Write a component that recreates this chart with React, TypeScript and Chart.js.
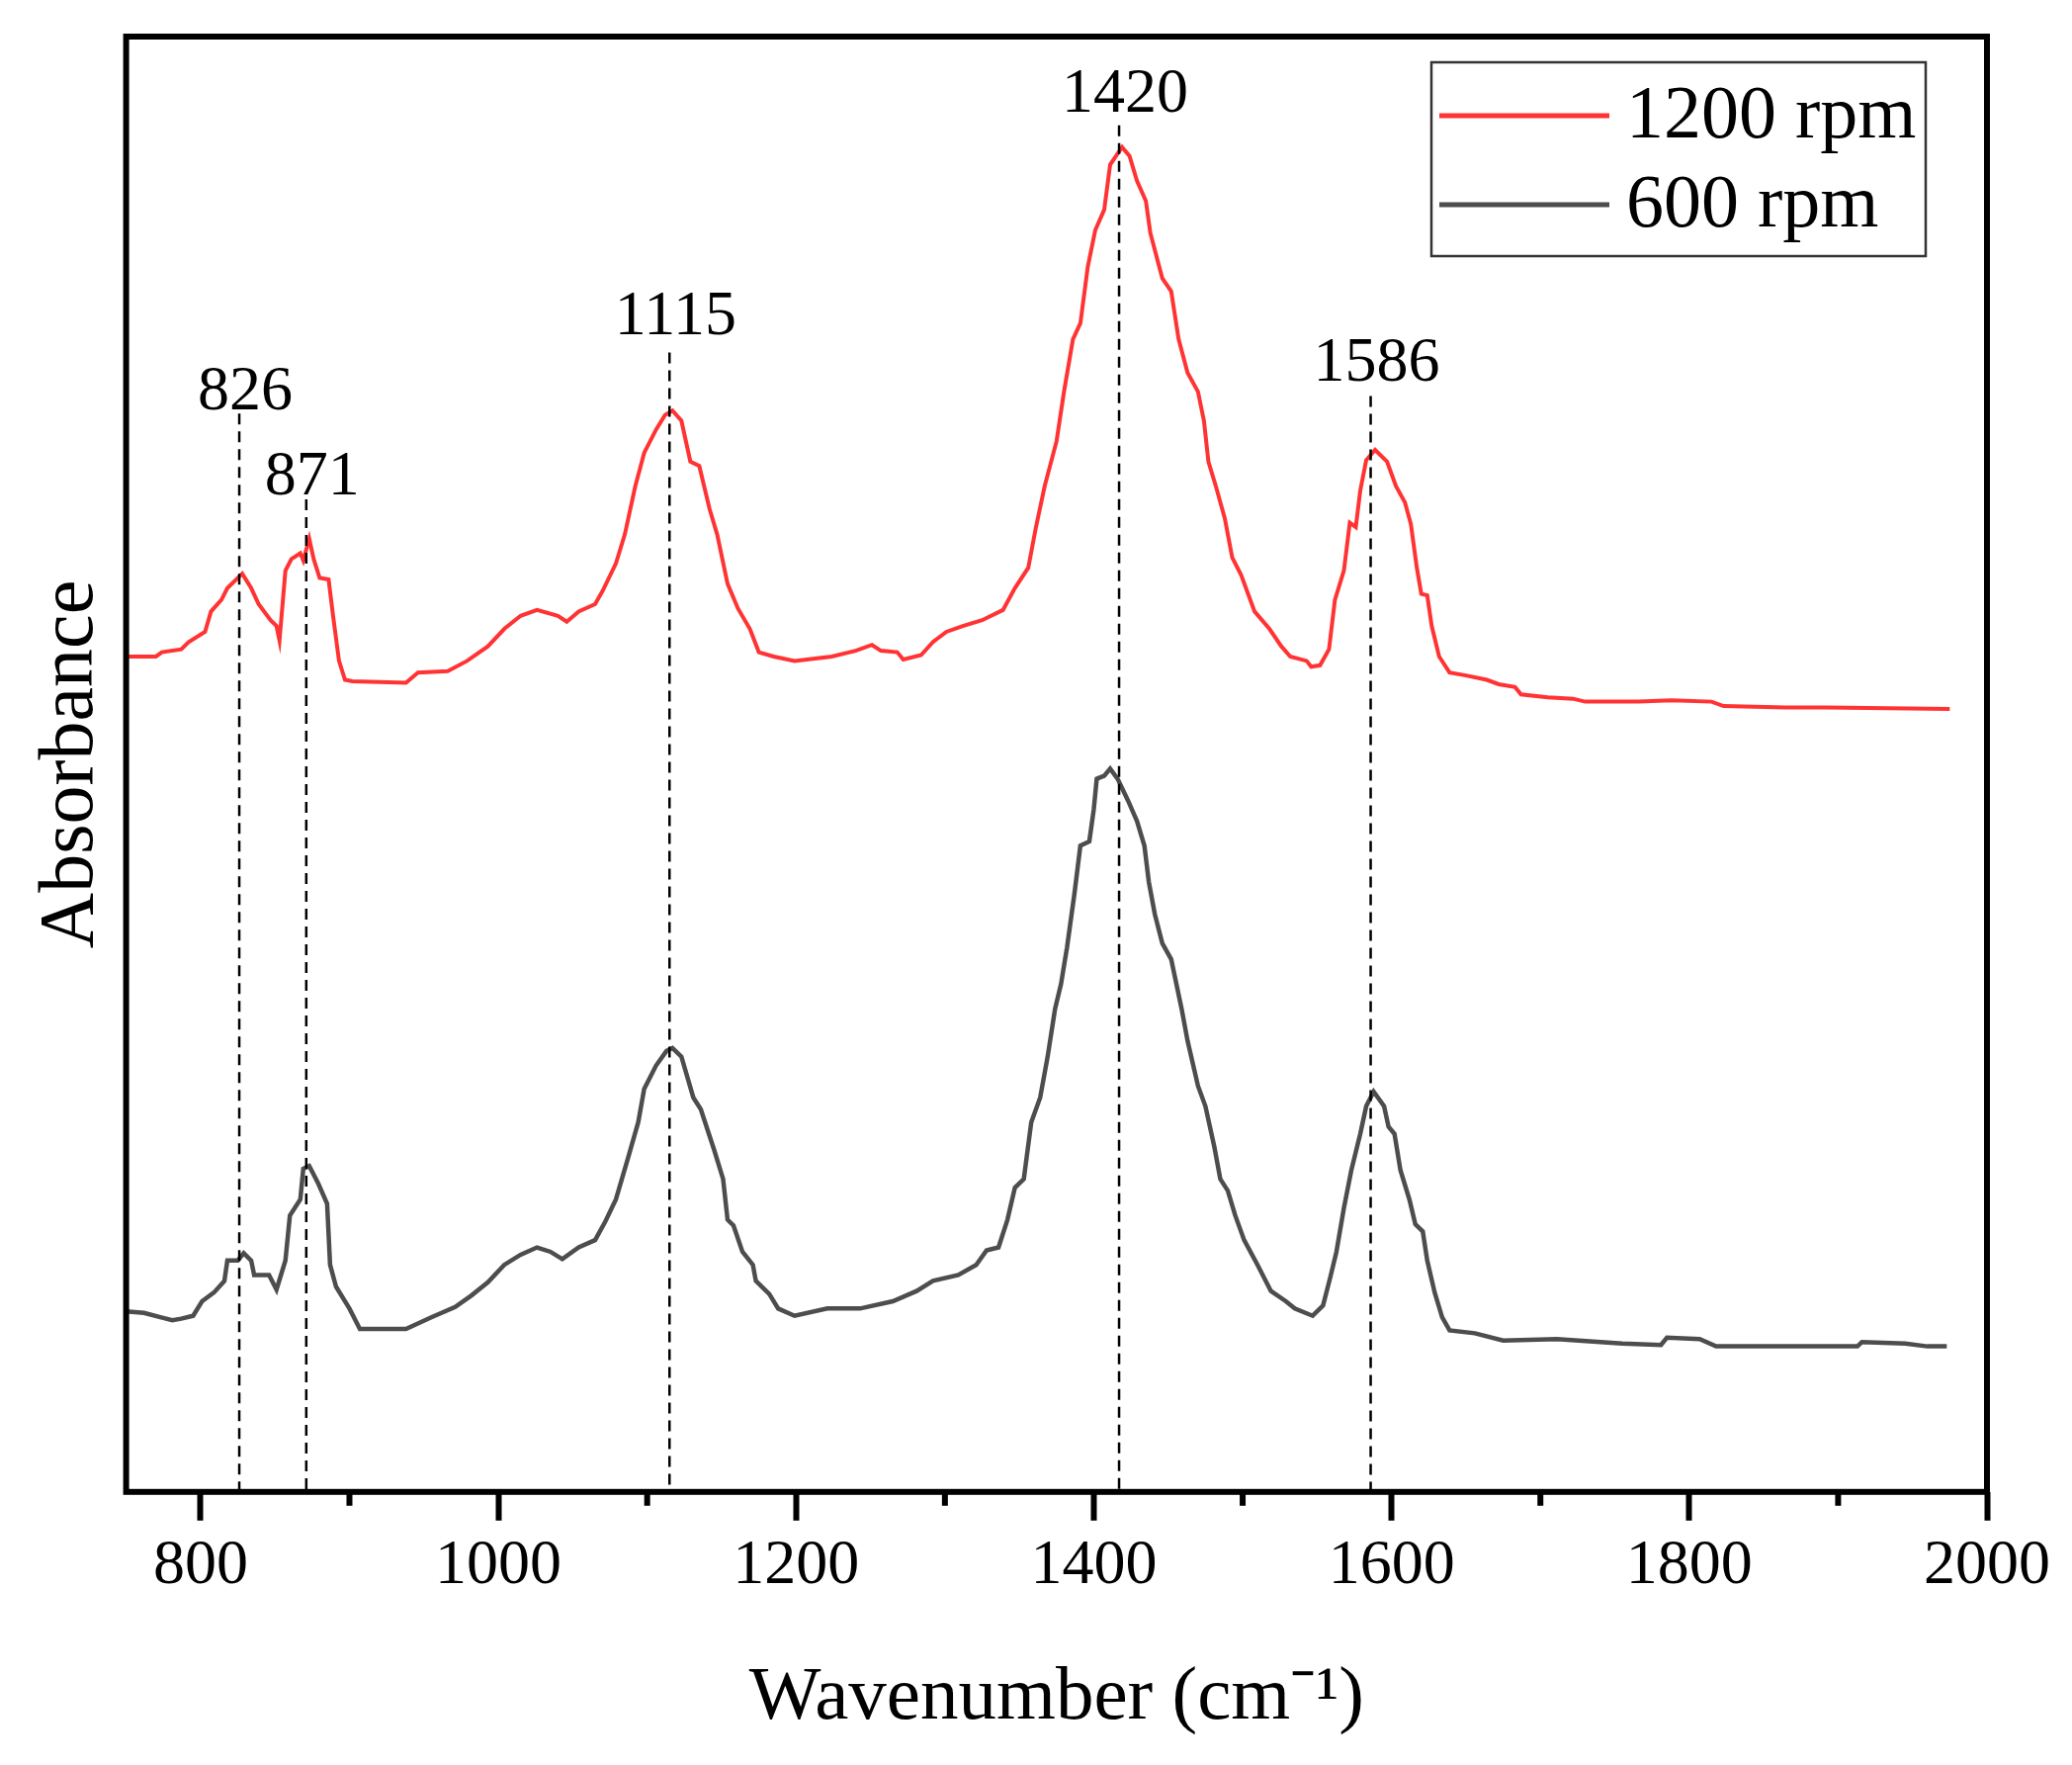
import React, { useEffect, useRef } from 'react';
import { Chart, registerables } from 'chart.js';

Chart.register(...registerables);

const FONT = "'Liberation Serif', 'Times New Roman', serif";

// ---- data (wavenumber in cm-1, absorbance in arbitrary offset units) ----
const wavenumber1200 = [
  750, 770, 774, 787, 792, 803, 807, 814, 818, 828, 834, 839, 847, 851, 853, 857, 861, 867, 869, 873,
  876, 880, 886, 889, 893, 897, 902, 938, 946, 966, 979, 993, 1004, 1015, 1026, 1040, 1046, 1054, 1065, 1070,
  1079, 1085, 1092, 1098, 1106, 1112, 1117, 1123, 1129, 1135, 1142, 1147, 1154, 1161, 1169, 1175, 1185, 1199, 1224, 1240,
  1251, 1257, 1268, 1272, 1284, 1292, 1301, 1312, 1325, 1339, 1347, 1356, 1361, 1367, 1375, 1380, 1386, 1391, 1396, 1401,
  1407, 1411, 1415, 1419, 1424, 1429, 1435, 1438, 1446, 1452, 1457, 1463, 1470, 1474, 1477, 1482, 1488, 1493, 1499, 1508,
  1518, 1526, 1532, 1543, 1546, 1552, 1558, 1562, 1568, 1572, 1576, 1579, 1583, 1589, 1597, 1603, 1609, 1613, 1617, 1620,
  1624, 1627, 1632, 1639, 1650, 1664, 1672, 1683, 1687, 1705, 1722, 1730, 1766, 1788, 1815, 1823, 1865, 1892, 1975,
];
const absorbance1200 = [
  57.4, 57.4, 57.7, 57.9, 58.4, 59.1, 60.5, 61.3, 62.1, 63.1, 62.1, 61.0, 59.9, 59.5, 58.5, 63.3, 64.1, 64.5, 64.0, 65.5,
  64.1, 62.8, 62.7, 60.2, 57.1, 55.8, 55.7, 55.6, 56.3, 56.4, 57.1, 58.1, 59.3, 60.2, 60.6, 60.2, 59.8, 60.5, 61.0, 61.9,
  63.8, 65.8, 69.1, 71.4, 73.0, 74.0, 74.3, 73.6, 70.8, 70.5, 67.5, 65.8, 62.4, 60.7, 59.3, 57.7, 57.4, 57.1, 57.4, 57.8,
  58.2, 57.8, 57.7, 57.2, 57.5, 58.4, 59.1, 59.5, 59.9, 60.6, 62.1, 63.5, 66.2, 69.1, 72.2, 75.6, 79.2, 80.3, 84.2, 86.7,
  88.1, 91.2, 91.8, 92.4, 91.8, 90.1, 88.7, 86.5, 83.4, 82.5, 79.2, 76.9, 75.6, 73.6, 70.8, 69.1, 66.9, 64.2, 63.0, 60.5,
  59.3, 58.1, 57.4, 57.1, 56.7, 56.8, 57.9, 61.3, 63.3, 66.6, 66.3, 68.8, 70.9, 71.6, 70.8, 69.1, 68.0, 66.5, 63.5, 61.7,
  61.6, 59.5, 57.4, 56.3, 56.1, 55.8, 55.5, 55.3, 54.8, 54.6, 54.5, 54.3, 54.3, 54.4, 54.3, 54.0, 53.9, 53.9, 53.8,
];

const wavenumber600 = [
  750, 762, 773, 781, 787, 795, 801, 809, 816, 818, 825, 829, 834, 836, 846, 851, 857, 860, 867, 869,
  873, 879, 885, 887, 891, 900, 907, 938, 955, 971, 982, 993, 1004, 1015, 1026, 1035, 1043, 1054, 1065, 1072,
  1079, 1087, 1094, 1098, 1106, 1113, 1117, 1123, 1131, 1136, 1145, 1151, 1154, 1158, 1164, 1171, 1173, 1182, 1188, 1199,
  1221, 1243, 1265, 1281, 1292, 1309, 1321, 1328, 1336, 1342, 1347, 1353, 1358, 1364, 1369, 1374, 1378, 1382, 1387, 1391,
  1397, 1400, 1402, 1407, 1411, 1416, 1423, 1429, 1434, 1437, 1441, 1446, 1452, 1459, 1463, 1470, 1475, 1481, 1485, 1490,
  1495, 1501, 1510, 1519, 1529, 1535, 1547, 1554, 1559, 1563, 1568, 1573, 1579, 1583, 1588, 1595, 1598, 1602, 1606, 1612,
  1616, 1621, 1624, 1629, 1634, 1639, 1656, 1675, 1711, 1755, 1781, 1785, 1807, 1818, 1913, 1916, 1945, 1960, 1973,
];
const absorbance600 = [
  12.4, 12.3, 12.0, 11.8, 11.9, 12.1, 13.1, 13.7, 14.5, 15.9, 15.9, 16.4, 15.9, 14.9, 14.9, 13.9, 15.9, 19.0, 20.1, 22.2,
  22.4, 21.2, 19.8, 15.6, 14.1, 12.6, 11.2, 11.2, 12.0, 12.7, 13.5, 14.4, 15.6, 16.3, 16.8, 16.5, 16.0, 16.8, 17.3, 18.6,
  20.1, 22.9, 25.4, 27.7, 29.3, 30.3, 30.5, 29.9, 27.1, 26.3, 23.5, 21.5, 18.7, 18.3, 16.5, 15.6, 14.5, 13.6, 12.6, 12.1,
  12.6, 12.6, 13.1, 13.8, 14.5, 14.9, 15.6, 16.6, 16.8, 18.7, 20.9, 21.5, 25.4, 27.1, 29.9, 33.2, 34.9, 37.4, 41.1, 44.4,
  44.7, 46.9, 49.0, 49.2, 49.7, 49.0, 47.5, 46.1, 44.4, 41.9, 39.7, 37.7, 36.6, 33.2, 31.0, 27.9, 26.5, 23.7, 21.5, 20.7,
  19.0, 17.3, 15.6, 13.8, 13.1, 12.6, 12.1, 12.8, 14.8, 16.5, 19.5, 22.1, 24.6, 26.5, 27.5, 26.5, 25.1, 24.6, 22.1, 20.1,
  18.4, 17.9, 15.9, 13.7, 12.0, 11.1, 10.9, 10.4, 10.5, 10.2, 10.1, 10.6, 10.5, 10.0, 10.0, 10.3, 10.2, 10.0, 10.0,
];

const seriesLabels = ['1200 rpm', '600 rpm'];
const seriesColors = ['#ff3333', '#4d4d4d'];

// dashed marker positions as drawn in the figure, and their printed labels
const peakPositions = [826, 871, 1115, 1417, 1586];
const peakLabels = ['826', '871', '1115', '1420', '1586'];
const peakLabelLevels = [75.5, 69.7, 80.7, 96.0, 77.5];
const peakLineTops = [74.1, 68.2, 78.3, 93.9, 75.3];

const majorTicks = [800, 1000, 1200, 1400, 1600, 1800, 2000];
const minorTicks = [900, 1100, 1300, 1500, 1700, 1900];
const X_MIN = 750;
const X_MAX = 2000;
const Y_MIN = 0;
const Y_MAX = 100;

const toPoints = (xs: number[], ys: number[]) => xs.map((x, i) => ({ x, y: ys[i] }));

const peakPlugin = {
  id: 'peakMarkers',
  afterDatasetsDraw(chart: any) {
    const { ctx, chartArea, scales } = chart;
    const xs = scales.x;
    const ys = scales.y;
    ctx.save();
    ctx.strokeStyle = '#000';
    ctx.lineWidth = 2.5;
    ctx.setLineDash([11, 7]);
    peakPositions.forEach((p, i) => {
      const px = xs.getPixelForValue(p);
      ctx.beginPath();
      ctx.moveTo(px, ys.getPixelForValue(peakLineTops[i]));
      ctx.lineTo(px, chartArea.bottom);
      ctx.stroke();
    });
    ctx.setLineDash([]);
    ctx.fillStyle = '#000';
    ctx.font = `64px ${FONT}`;
    ctx.textAlign = 'center';
    ctx.textBaseline = 'middle';
    peakPositions.forEach((p, i) => {
      ctx.fillText(peakLabels[i], xs.getPixelForValue(p) + 6, ys.getPixelForValue(peakLabelLevels[i]));
    });
    ctx.restore();
  },
};

const framePlugin = {
  id: 'frameAndLegend',
  afterDraw(chart: any) {
    const { ctx, chartArea, scales } = chart;
    const { left, right, top, bottom } = chartArea;
    ctx.save();
    // frame
    ctx.strokeStyle = '#000';
    ctx.lineWidth = 6;
    ctx.strokeRect(left, top, right - left, bottom - top);
    // minor ticks
    ctx.lineWidth = 6;
    minorTicks.forEach((v) => {
      const px = scales.x.getPixelForValue(v);
      ctx.beginPath();
      ctx.moveTo(px, bottom);
      ctx.lineTo(px, bottom + 14);
      ctx.stroke();
    });
    // legend box
    const boxRight = right - 62;
    const boxLeft = boxRight - 500;
    const boxTop = top + 26;
    const boxH = 196;
    ctx.lineWidth = 2.5;
    ctx.strokeStyle = '#333';
    ctx.strokeRect(boxLeft, boxTop, boxRight - boxLeft, boxH);
    ctx.font = `76px ${FONT}`;
    ctx.textAlign = 'left';
    ctx.textBaseline = 'middle';
    chart.data.datasets.forEach((ds: any, i: number) => {
      const cy = boxTop + 54 + i * 90;
      ctx.strokeStyle = ds.borderColor;
      ctx.lineWidth = 5;
      ctx.beginPath();
      ctx.moveTo(boxLeft + 8, cy);
      ctx.lineTo(boxLeft + 180, cy);
      ctx.stroke();
      ctx.fillStyle = '#000';
      ctx.fillText(ds.label, boxLeft + 197, cy + 2);
    });
    ctx.restore();
  },
};

export default function App() {
  const canvasRef = useRef<HTMLCanvasElement | null>(null);

  useEffect(() => {
    if (!canvasRef.current) return;
    const chart = new Chart(canvasRef.current, {
      type: 'line',
      data: {
        datasets: [
          {
            label: seriesLabels[0],
            data: toPoints(wavenumber1200, absorbance1200),
            borderColor: seriesColors[0],
            backgroundColor: seriesColors[0],
            borderWidth: 4,
            pointRadius: 0,
            tension: 0,
            fill: false,
          },
          {
            label: seriesLabels[1],
            data: toPoints(wavenumber600, absorbance600),
            borderColor: seriesColors[1],
            backgroundColor: seriesColors[1],
            borderWidth: 4.5,
            pointRadius: 0,
            tension: 0,
            fill: false,
          },
        ],
      },
      options: {
        animation: false,
        responsive: true,
        maintainAspectRatio: false,
        devicePixelRatio: 1,
        layout: { padding: { left: 20, right: 86, top: 37, bottom: 21 } },
        plugins: {
          legend: { display: false },
          tooltip: { enabled: false },
        },
        scales: {
          x: {
            type: 'linear',
            min: X_MIN,
            max: X_MAX,
            afterBuildTicks: (axis: any) => {
              axis.ticks = [...majorTicks, ...minorTicks]
                .sort((a, b) => a - b)
                .map((v) => ({ value: v }));
            },
            border: { display: false },
            grid: {
              display: true,
              drawOnChartArea: false,
              drawTicks: true,
              tickLength: 29,
              tickWidth: 6,
              tickColor: (ctx: any) =>
                ctx.tick && majorTicks.includes(ctx.tick.value) ? '#000' : 'rgba(0,0,0,0)',
            },
            ticks: {
              autoSkip: false,
              maxRotation: 0,
              padding: 8,
              color: '#000',
              font: { family: FONT, size: 64 },
              callback: (value: any) => (majorTicks.includes(Number(value)) ? String(value) : ''),
            },
            title: {
              display: true,
              text: 'Wavenumber (cm\u207B\u00B9)',
              color: '#000',
              font: { family: FONT, size: 77 },
              padding: { top: 41, bottom: 0 },
            },
          },
          y: {
            type: 'linear',
            min: Y_MIN,
            max: Y_MAX,
            border: { display: false },
            grid: { display: false, drawTicks: false },
            ticks: { display: false },
            title: {
              display: true,
              text: 'Absorbance',
              color: '#000',
              font: { family: FONT, size: 78 },
              padding: { top: 6, bottom: 8 },
            },
          },
        },
      },
      plugins: [peakPlugin, framePlugin],
    } as any);
    return () => chart.destroy();
  }, []);

  return (
    <div
      style={{
        position: 'fixed',
        left: 0,
        top: 0,
        width: 2096,
        height: 1785,
        background: '#fff',
      }}
    >
      <canvas ref={canvasRef} />
    </div>
  );
}
